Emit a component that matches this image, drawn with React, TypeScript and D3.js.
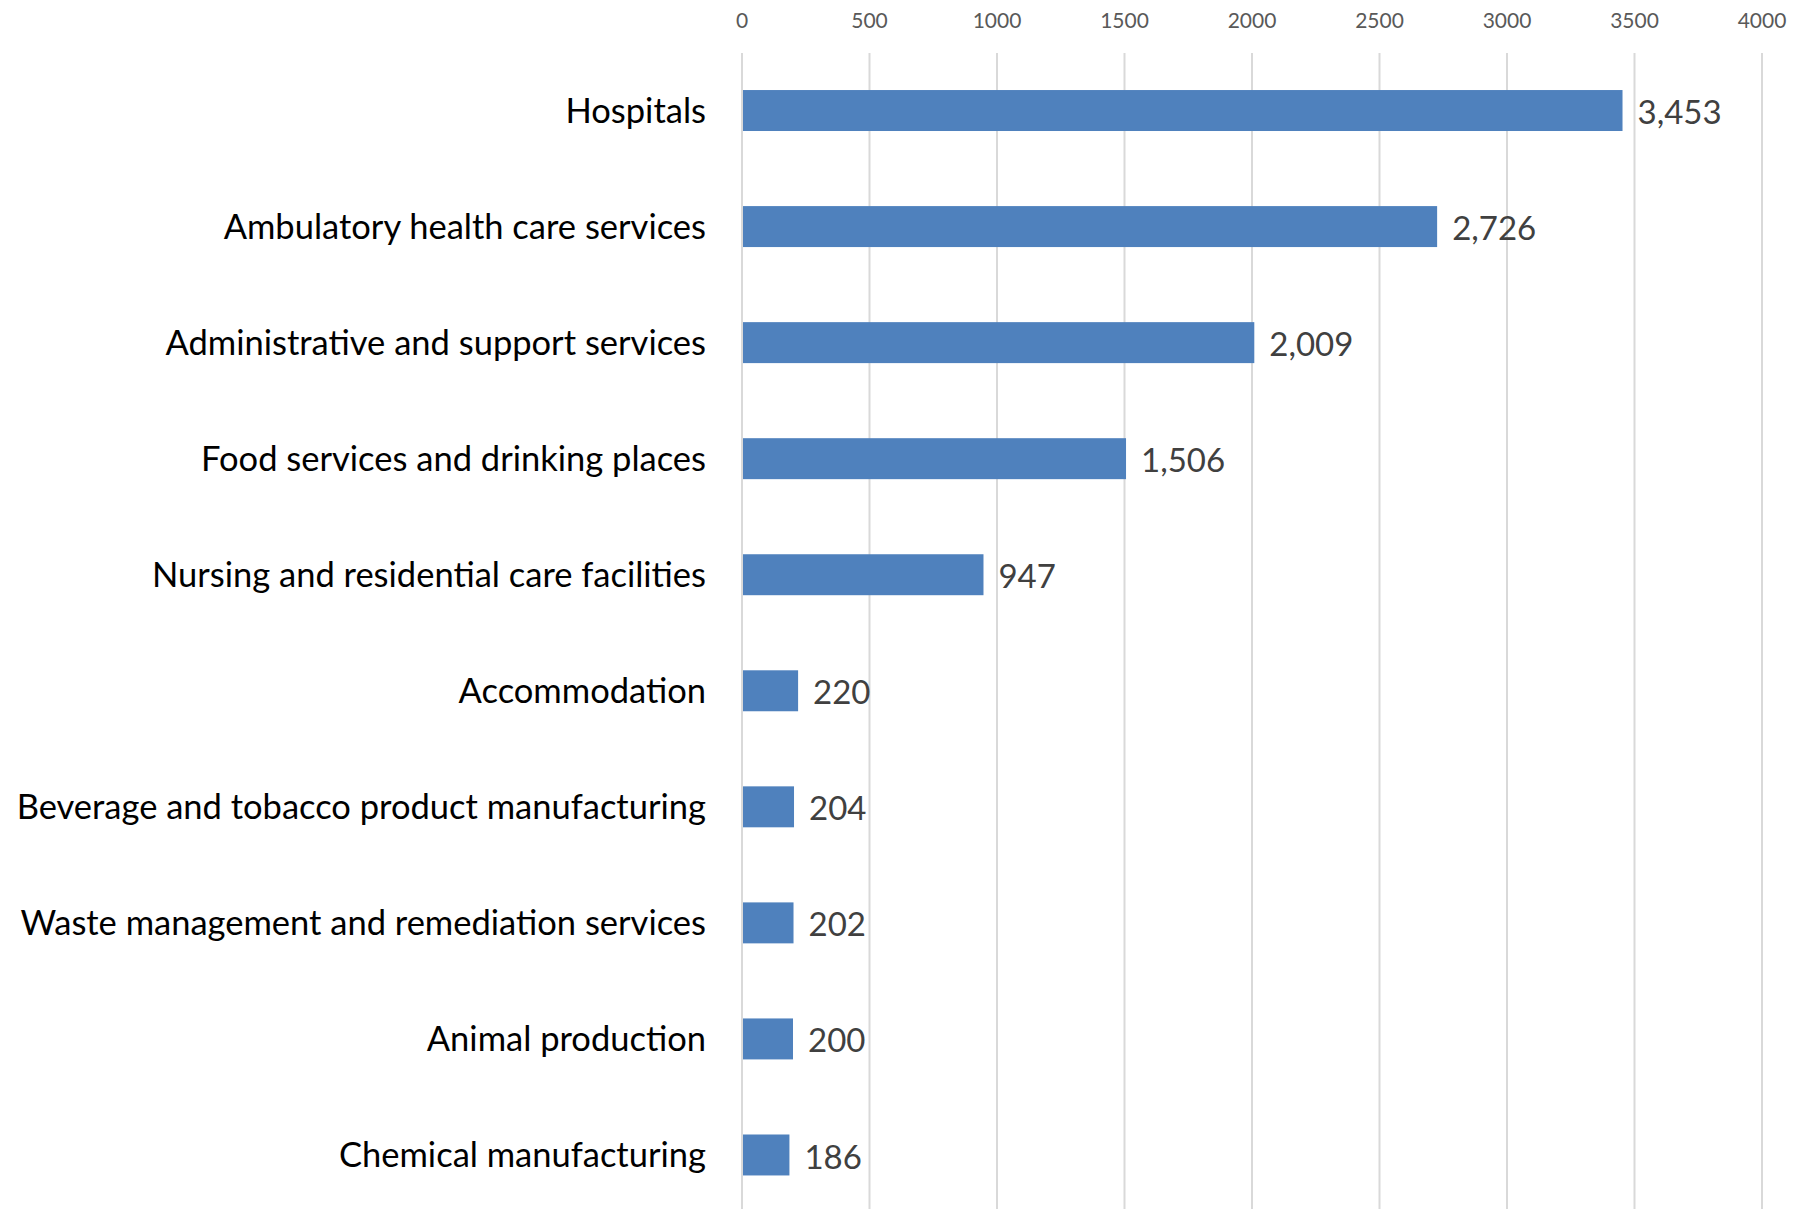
import React from "react";
import * as d3 from "d3";

const categories = [
  "Hospitals",
  "Ambulatory health care services",
  "Administrative and support services",
  "Food services and drinking places",
  "Nursing and residential care facilities",
  "Accommodation",
  "Beverage and tobacco product manufacturing",
  "Waste management and remediation services",
  "Animal production",
  "Chemical manufacturing",
];
const values = [3453, 2726, 2009, 1506, 947, 220, 204, 202, 200, 186];
const tickValues = [0, 500, 1000, 1500, 2000, 2500, 3000, 3500, 4000];

const W = 1807;
const H = 1209;
const FONT = "Lato, 'Open Sans', sans-serif";

export default function App() {
  const x = d3.scaleLinear().domain([0, 4000]).range([742, 1762]);
  const y = d3
    .scaleBand<string>()
    .domain(categories)
    .range([52.5, 52.5 + 116.05 * categories.length])
    .paddingInner(0.647)
    .paddingOuter(0.3235);
  const fmt = d3.format(",");
  const bw = y.bandwidth();

  return (
    <svg
      width={W}
      height={H}
      style={{ position: "absolute", left: 0, top: 0, background: "#fff" }}
      fontFamily={FONT}
    >
      <rect x={0} y={0} width={W} height={H} fill="#fff" />
      {tickValues.map((t) => (
        <g key={t}>
          <line
            x1={x(t)}
            x2={x(t)}
            y1={53}
            y2={H}
            stroke="#d9d9d9"
            strokeWidth={2}
          />
          <text
            x={x(t)}
            y={21}
            dy="0.35em"
            textAnchor="middle"
            fontSize={21}
            fill="#595959"
          >
            {t}
          </text>
        </g>
      ))}
      {categories.map((c, i) => {
        const cy = (y(c) as number) + bw / 2;
        return (
          <g key={c}>
            <rect
              x={x(0) + 1}
              y={y(c) as number}
              width={x(values[i]) - x(0) - 1}
              height={bw}
              fill="#4F81BD"
            />
            <text
              x={706}
              y={cy}
              dy="0.35em"
              textAnchor="end"
              fontSize={34.5}
              fill="#000"
            >
              {c}
            </text>
            <text
              x={x(values[i]) + 15}
              y={cy + 2}
              dy="0.35em"
              textAnchor="start"
              fontSize={33}
              fill="#404040"
            >
              {fmt(values[i])}
            </text>
          </g>
        );
      })}
    </svg>
  );
}
